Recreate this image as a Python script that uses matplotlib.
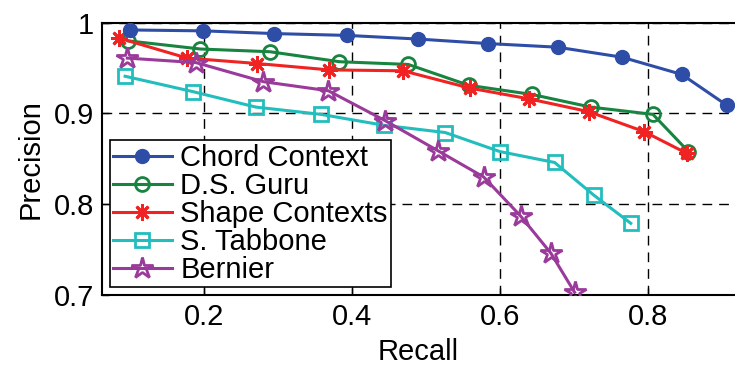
import matplotlib
matplotlib.use('Agg')
import matplotlib.pyplot as plt
from matplotlib.ticker import FixedLocator, FuncFormatter

plt.rcParams['font.family'] = ['Liberation Sans', 'DejaVu Sans']

# recall / precision
chord_x = [0.099, 0.199, 0.295, 0.393, 0.489, 0.584, 0.678, 0.765, 0.846, 0.907]
chord_y = [0.992, 0.991, 0.988, 0.986, 0.982, 0.977, 0.973, 0.962, 0.943, 0.909]

guru_x = [0.097, 0.195, 0.289, 0.383, 0.476, 0.558, 0.643, 0.723, 0.807, 0.855]
guru_y = [0.980, 0.971, 0.968, 0.957, 0.954, 0.931, 0.921, 0.907, 0.899, 0.858]

shape_x = [0.085, 0.177, 0.272, 0.369, 0.469, 0.559, 0.640, 0.720, 0.795, 0.853]
shape_y = [0.983, 0.961, 0.955, 0.948, 0.947, 0.928, 0.916, 0.902, 0.880, 0.856]

tabbone_x = [0.093, 0.185, 0.270, 0.358, 0.443, 0.526, 0.600, 0.674, 0.727, 0.777]
tabbone_y = [0.941, 0.924, 0.907, 0.899, 0.887, 0.879, 0.858, 0.846, 0.810, 0.779]

bernier_x = [0.096, 0.189, 0.280, 0.368, 0.445, 0.516, 0.578, 0.628, 0.669, 0.701]
bernier_y = [0.961, 0.956, 0.935, 0.925, 0.892, 0.859, 0.830, 0.787, 0.746, 0.703]

x_ticks = [0.2, 0.4, 0.6, 0.8]
y_ticks = [0.7, 0.8, 0.9, 1.0]

fig = plt.figure(figsize=(7.35, 3.66), dpi=100)
ax = fig.add_axes([0.139, 0.194, 0.861, 0.744])

ax.plot(chord_x, chord_y, color='#2E4DA7', lw=2.2, marker='o', ms=10,
        mfc='#2E4DA7', mec='#2E4DA7', label='Chord Context', zorder=5)
ax.plot(guru_x, guru_y, color='#17843F', lw=2.2, marker='o', ms=10,
        mfc='none', mec='#17843F', mew=2, label='D.S. Guru', zorder=4)
ax.plot(shape_x, shape_y, color='#F02222', lw=2.2, marker=(8, 2, 0), ms=12,
        mec='#F02222', mew=2, label='Shape Contexts', zorder=4)
ax.plot(tabbone_x, tabbone_y, color='#22BDBD', lw=2.2, marker='s', ms=10,
        mfc='none', mec='#22BDBD', mew=2, label='S. Tabbone', zorder=3)
ax.plot(bernier_x, bernier_y, color='#9A3A9A', lw=2.2, marker='*', ms=16,
        mfc='none', mec='#9A3A9A', mew=2, label='Bernier', zorder=4)

ax.set_xlim(0.062, 0.918)
ax.set_ylim(0.7, 1.0)
ax.xaxis.set_major_locator(FixedLocator(x_ticks))
ax.yaxis.set_major_locator(FixedLocator(y_ticks))
ax.yaxis.set_major_formatter(FuncFormatter(lambda v, p: '1' if abs(v - 1) < 1e-9 else '%.1f' % v))
ax.tick_params(direction='in', length=5, width=1, labelsize=21, pad=6)
ax.grid(True, color='black', linestyle=(0, (7, 5)), linewidth=1)

for s in ['left', 'bottom', 'top']:
    ax.spines[s].set_linewidth(1.5)
ax.spines['right'].set_visible(False)

ax.set_xlabel('Recall', fontsize=21, labelpad=5)
ax.set_ylabel('Precision', fontsize=21, labelpad=6)

leg = ax.legend(loc='lower left', bbox_to_anchor=(0.012, 0.028), borderaxespad=0,
                fontsize=21, handlelength=2.0, handletextpad=0.3,
                labelspacing=0.0, borderpad=0.12, fancybox=False, framealpha=1)
leg.get_frame().set_edgecolor('black')
leg.get_frame().set_linewidth(1.2)

fig.savefig('out.png', dpi=100)
